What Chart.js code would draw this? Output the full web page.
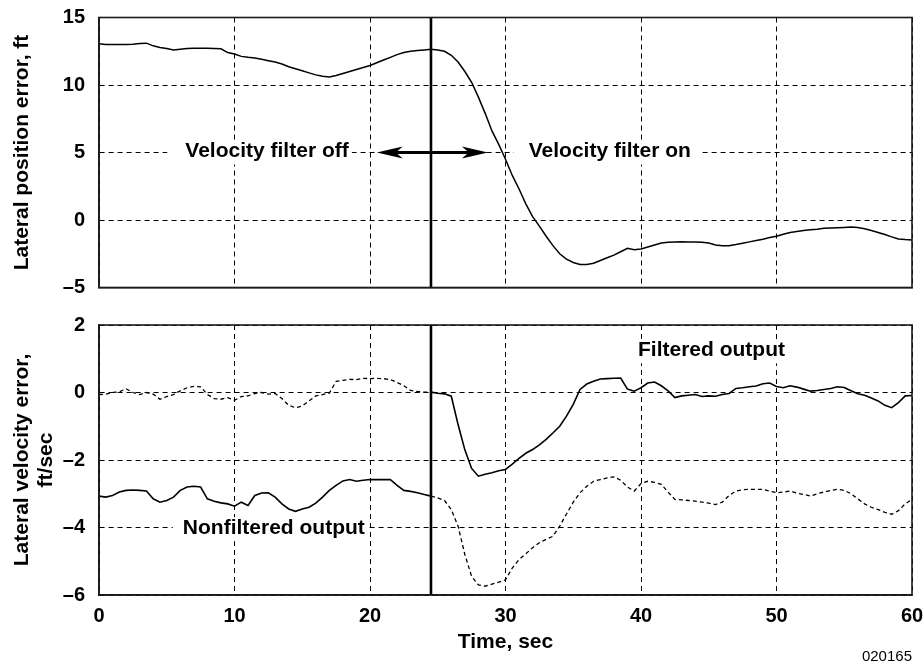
<!DOCTYPE html>
<html><head><meta charset="utf-8">
<script src="https://cdn.jsdelivr.net/npm/chart.js@4.4.0/dist/chart.umd.min.js"></script>
<style>
html,body{margin:0;padding:0;background:#fff;}
#wrap{position:relative;width:923px;height:664px;overflow:hidden;background:#fff;}
#c1{position:absolute;left:0;top:0;}
#c2{position:absolute;left:0;top:300px;}
#code{position:absolute;right:11px;top:647px;font:15px 'Liberation Sans',Arial,sans-serif;color:#000;line-height:18px;}
</style></head><body>
<div id="wrap">
<canvas id="c1" width="923" height="300"></canvas>
<canvas id="c2" width="923" height="364"></canvas>
<div id="code">020165</div>
</div>
<script>
// ---------- data ----------
const timeSec = [0,0.5,1,1.5,2,2.5,3,3.5,4,4.5,5,5.5,6,6.5,7,7.5,8,8.5,9,9.5,
  10,10.5,11,11.5,12,12.5,13,13.5,14,14.5,15,15.5,16,16.5,17,17.5,18,18.5,19,19.5,
  20,20.5,21,21.5,22,22.5,23,23.5,24,24.5,25,25.5,26,26.5,27,27.5,28,28.5,29,29.5,
  30,30.5,31,31.5,32,32.5,33,33.5,34,34.5,35,35.5,36,36.5,37,37.5,38,38.5,39,39.5,
  40,40.5,41,41.5,42,42.5,43,43.5,44,44.5,45,45.5,46,46.5,47,47.5,48,48.5,49,49.5,
  50,50.5,51,51.5,52,52.5,53,53.5,54,54.5,55,55.5,56,56.5,57,57.5,58,58.5,59,59.5,60];

const lateralPosFt = [13.05,13.0,13.0,13.0,13.0,13.02,13.08,13.1,12.9,12.78,
  12.7,12.6,12.65,12.7,12.72,12.72,12.72,12.7,12.68,12.4,
  12.3,12.12,12.05,12.0,11.9,11.8,11.7,11.55,11.35,11.2,
  11.05,10.9,10.75,10.65,10.6,10.7,10.85,11.0,11.15,11.3,
  11.45,11.65,11.85,12.05,12.25,12.4,12.5,12.55,12.6,12.65,
  12.6,12.5,12.2,11.7,11.0,10.2,9.1,7.9,6.6,5.6,
  4.5,3.3,2.3,1.2,0.25,-0.45,-1.2,-1.9,-2.5,-2.9,
  -3.15,-3.3,-3.3,-3.2,-3.0,-2.8,-2.6,-2.35,-2.1,-2.2,
  -2.15,-2.0,-1.85,-1.7,-1.65,-1.63,-1.62,-1.63,-1.63,-1.65,
  -1.7,-1.85,-1.9,-1.9,-1.82,-1.72,-1.62,-1.52,-1.42,-1.3,
  -1.2,-1.05,-0.92,-0.85,-0.78,-0.72,-0.68,-0.62,-0.6,-0.58,
  -0.55,-0.52,-0.55,-0.65,-0.78,-0.92,-1.08,-1.25,-1.4,-1.45,-1.48];

const filteredVel = [-0.06,-0.05,0.0,0.02,0.11,0.0,-0.06,0.0,-0.05,-0.2,
  -0.12,-0.06,0.05,0.14,0.18,0.17,-0.06,-0.18,-0.2,-0.15,
  -0.23,-0.12,-0.1,-0.03,0.0,-0.05,-0.03,-0.18,-0.38,-0.45,
  -0.4,-0.25,-0.1,-0.06,-0.02,0.33,0.36,0.39,0.38,0.42,
  0.41,0.42,0.41,0.38,0.3,0.2,0.06,0.03,0.01,0.01,
  -0.02,-0.04,-0.11,-0.95,-1.7,-2.25,-2.48,-2.42,-2.38,-2.32,
  -2.28,-2.12,-1.95,-1.8,-1.69,-1.55,-1.39,-1.2,-1.0,-0.7,
  -0.35,0.09,0.25,0.33,0.4,0.41,0.42,0.43,0.1,0.04,
  0.14,0.28,0.31,0.2,0.05,-0.15,-0.1,-0.08,-0.06,-0.12,
  -0.1,-0.11,-0.06,-0.03,0.12,0.14,0.17,0.19,0.26,0.28,
  0.18,0.14,0.2,0.16,0.1,0.04,0.06,0.09,0.12,0.17,
  0.15,0.05,-0.04,-0.08,-0.16,-0.25,-0.38,-0.45,-0.3,-0.1,-0.09];

const nonfilteredVel = [-3.07,-3.1,-3.05,-2.95,-2.9,-2.89,-2.9,-2.92,-3.15,-3.25,
  -3.2,-3.1,-2.9,-2.8,-2.78,-2.8,-3.15,-3.22,-3.27,-3.3,
  -3.37,-3.25,-3.35,-3.05,-2.98,-2.97,-3.1,-3.3,-3.45,-3.52,
  -3.45,-3.4,-3.28,-3.1,-2.9,-2.75,-2.62,-2.58,-2.63,-2.6,
  -2.58,-2.58,-2.58,-2.58,-2.75,-2.9,-2.93,-2.97,-3.02,-3.07,
  -3.12,-3.2,-3.47,-3.96,-4.8,-5.45,-5.7,-5.74,-5.68,-5.62,
  -5.55,-5.2,-4.95,-4.78,-4.6,-4.45,-4.35,-4.26,-3.96,-3.6,
  -3.25,-2.97,-2.78,-2.63,-2.58,-2.53,-2.5,-2.6,-2.8,-2.92,
  -2.7,-2.63,-2.66,-2.72,-2.95,-3.17,-3.18,-3.2,-3.22,-3.25,
  -3.28,-3.32,-3.25,-3.05,-2.92,-2.88,-2.87,-2.87,-2.87,-2.92,
  -2.97,-2.95,-2.92,-2.98,-3.02,-3.07,-3.0,-2.95,-2.9,-2.87,
  -2.9,-3.0,-3.15,-3.3,-3.4,-3.47,-3.55,-3.61,-3.5,-3.3,-3.17];

const switchTime = 24.5;               // velocity filter switched on
const timeTickLabels = ['0','10','20','30','40','50','60'];
const posTickLabels = ['\u20135','0','5','10','15'];
const velTickLabels = ['\u20136','\u20134','\u20132','0','2'];
const posRange = [-5, 15];
const velRange = [-6, 2];
const timeRange = [0, 60];

// annotations: [x (sec), y (value)]
const noteOff = {text:'Velocity filter off', at:[12.4, 5]};
const noteOn = {text:'Velocity filter on', at:[37.7, 5]};
const noteFiltered = {text:'Filtered output', at:[45.2, 1.22]};
const noteNonfiltered = {text:'Nonfiltered output', at:[12.9, -4.05]};
const arrowOffTip = [20.5, 5];
const arrowOnTip = [28.7, 5];

// ---------- rendering ----------
const FONT = "'Liberation Sans', Arial, Helvetica, sans-serif";
Chart.defaults.font.family = FONT;
Chart.defaults.color = '#000';

const pts = (ys) => timeSec.map((t, i) => ({x: t, y: ys[i]}));

const notesPlugin = {
  id: 'notes',
  beforeDatasetsDraw(chart, args, opts) {
    const {ctx} = chart;
    const xs = chart.scales.x, ys = chart.scales.y;
    ctx.save();
    ctx.font = 'bold 21px ' + FONT;
    ctx.textBaseline = 'middle';
    ctx.textAlign = 'center';
    (opts.items || []).forEach(it => {
      const px = xs.getPixelForValue(it.note.at[0]);
      const py = ys.getPixelForValue(it.note.at[1]);
      const w = ctx.measureText(it.note.text).width;
      ctx.fillStyle = '#fff';
      ctx.fillRect(px - w / 2 - it.padL, py - 12, w + it.padL + it.padR, 24);
      ctx.fillStyle = '#000';
      ctx.fillText(it.note.text, px, py - 1);
    });
    ctx.restore();
  },
  afterDatasetsDraw(chart, args, opts) {
    const {ctx} = chart;
    const xs = chart.scales.x, ys = chart.scales.y;
    ctx.save();
    (opts.arrows || []).forEach(a => {
      const x0 = xs.getPixelForValue(a.from);
      const tx = xs.getPixelForValue(a.tip[0]);
      const ty = ys.getPixelForValue(a.tip[1]);
      const dir = tx < x0 ? 1 : -1; // head extends toward shaft
      ctx.strokeStyle = '#000';
      ctx.lineWidth = 3;
      ctx.beginPath();
      ctx.moveTo(x0, ty);
      ctx.lineTo(tx + dir * 18, ty);
      ctx.stroke();
      ctx.fillStyle = '#000';
      ctx.beginPath();
      ctx.moveTo(tx, ty);
      ctx.lineTo(tx + dir * 26, ty - 6);
      ctx.lineTo(tx + dir * 19, ty);
      ctx.lineTo(tx + dir * 26, ty + 6);
      ctx.closePath();
      ctx.fill();
    });
    ctx.restore();
  },
  afterDraw(chart) {
    const {ctx, chartArea: a} = chart;
    ctx.save();
    ctx.strokeStyle = '#1a1a1a';
    ctx.lineWidth = 1.6;
    ctx.strokeRect(a.left, a.top, a.right - a.left, a.bottom - a.top);
    ctx.restore();
  }
};

function xScale(showLabels) {
  return {
    type: 'linear', min: timeRange[0], max: timeRange[1],
    ticks: {
      display: showLabels, stepSize: 10, padding: 9, autoSkip: false, maxRotation: 0,
      font: {size: 20, weight: 'bold'},
      callback: (v, i) => timeTickLabels[i]
    },
    grid: {color: '#000', lineWidth: 1, drawTicks: false},
    border: {display: true, color: '#1a1a1a', width: 1.6, dash: [5, 4]},
    title: {display: showLabels, text: 'Time, sec', font: {size: 21, weight: 'bold'}, padding: {top: 0, bottom: 9}},
    afterFit: (s) => { s.height = showLabels ? 69 : 12.5; s.paddingLeft = 0; s.paddingRight = 0; }
  };
}
function yScale(range, step, labels, title, lh) {
  return {
    type: 'linear', min: range[0], max: range[1],
    ticks: {
      stepSize: step, padding: 14, autoSkip: false,
      font: {size: 20, weight: 'bold'},
      callback: (v, i) => labels[i]
    },
    grid: {color: '#000', lineWidth: 1, drawTicks: false},
    border: {display: true, color: '#1a1a1a', width: 1.6, dash: [5, 4]},
    title: {display: true, text: title, font: {size: 21, weight: 'bold', lineHeight: lh}, padding: {top: 10, bottom: 0}},
    afterFit: (s) => { s.width = 99; s.paddingTop = 0; s.paddingBottom = 0; }
  };
}

const common = {
  responsive: false, animation: false, events: [],
  plugins: {legend: {display: false}, tooltip: {enabled: false}},
  elements: {point: {radius: 0}, line: {tension: 0, borderColor: '#000', borderCapStyle: 'butt'}},
};

new Chart(document.getElementById('c1'), {
  type: 'line',
  data: {datasets: [
    {data: pts(lateralPosFt), borderColor: '#000', borderWidth: 1.5, pointRadius: 0},
    {data: [{x: switchTime, y: posRange[0]}, {x: switchTime, y: posRange[1]}], borderColor: '#000', borderWidth: 2.6, pointRadius: 0}
  ]},
  options: Object.assign({}, common, {
    layout: {padding: {left: 0, right: 11, top: 17.5, bottom: 0}},
    scales: {x: xScale(false), y: yScale(posRange, 5, posTickLabels, 'Lateral position error, ft', 1.2)},
    plugins: Object.assign({}, common.plugins, {notes: {
      items: [{note: noteOff, padL: 18, padR: 3}, {note: noteOn, padL: 15, padR: 11}],
      arrows: [{from: switchTime, tip: arrowOffTip}, {from: switchTime, tip: arrowOnTip}]
    }})
  }),
  plugins: [notesPlugin]
});

const dashBefore = (ctx) => ctx.p0.parsed.x < switchTime ? [4, 3] : undefined;
const dashAfter = (ctx) => ctx.p0.parsed.x >= switchTime ? [4, 3] : undefined;

new Chart(document.getElementById('c2'), {
  type: 'line',
  data: {datasets: [
    {data: pts(filteredVel), borderColor: '#000', borderWidth: 1.6, pointRadius: 0,
      segment: {borderDash: dashBefore, borderWidth: (c) => c.p0.parsed.x < switchTime ? 1.3 : undefined}},
    {data: pts(nonfilteredVel), borderColor: '#000', borderWidth: 1.6, pointRadius: 0,
      segment: {borderDash: dashAfter, borderWidth: (c) => c.p0.parsed.x >= switchTime ? 1.3 : undefined}},
    {data: [{x: switchTime, y: velRange[0]}, {x: switchTime, y: velRange[1]}], borderColor: '#000', borderWidth: 2.6, pointRadius: 0}
  ]},
  options: Object.assign({}, common, {
    layout: {padding: {left: 0, right: 11, top: 25, bottom: 0}},
    scales: {x: xScale(true), y: yScale(velRange, 2, velTickLabels, ['Lateral velocity error,', 'ft/sec'], 1.15)},
    plugins: Object.assign({}, common.plugins, {notes: {
      items: [{note: noteFiltered, padL: 6, padR: 6}, {note: noteNonfiltered, padL: 10, padR: 3}],
      arrows: []
    }})
  }),
  plugins: [notesPlugin]
});
</script></body></html>
